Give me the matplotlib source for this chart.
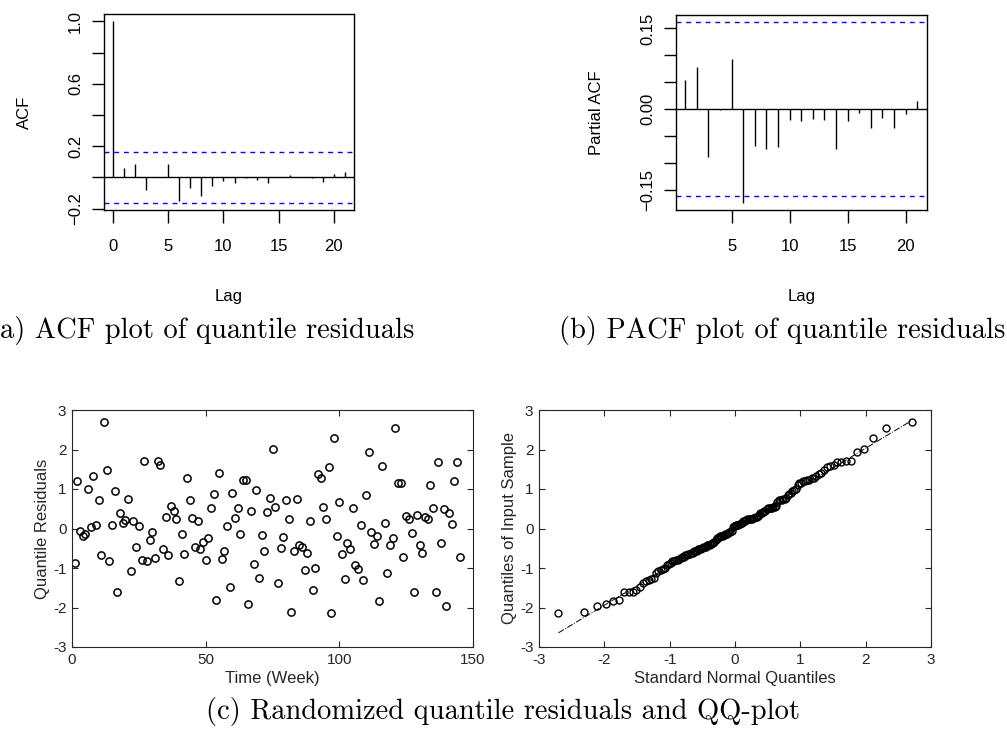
import numpy as np
import matplotlib
matplotlib.use("Agg")
import matplotlib.pyplot as plt
from statistics import NormalDist

# ACF / PACF values
acf_lags = list(range(0, 22))
acf_vals = [1.0, 0.060, 0.088, -0.079, 0.003, 0.085, -0.150, -0.066, -0.120, -0.056,
            -0.021, -0.038, -0.005, -0.015, -0.036, 0.0, 0.013, 0.005, -0.005, -0.028,
            0.024, 0.034]
pacf_lags = list(range(1, 22))
pacf_vals = [0.055, 0.078, -0.090, -0.002, 0.094, -0.1745, -0.068, -0.0745, -0.070, -0.021,
             -0.022, -0.019, -0.0205, -0.074, -0.022, -0.007, -0.035, -0.016, -0.035, -0.009,
             0.015]
clim = 0.1617   # 95% band, 1.96/sqrt(n)

# randomized quantile residuals by week
residuals = [-0.87, 1.21, -0.06, -0.19, -0.15, 0.99, 0.04, 1.33, 0.10, 0.72,
             -0.67, 2.69, 1.47, -0.83, 0.10, 0.95, -1.62, 0.40, 0.13, 0.21,
             0.75, -1.07, 0.19, -0.48, 0.06, -0.81, 1.70, -0.83, -0.29, -0.10,
             -0.74, 1.70, 1.60, -0.51, 0.29, -0.67, 0.58, 0.45, 0.23, -1.33,
             -0.14, -0.65, 1.27, 0.72, 0.26, -0.48, 0.19, -0.52, -0.33, -0.81,
             -0.24, 0.51, 0.87, -1.80, 1.40, -0.77, -0.58, 0.06, -1.49, 0.91,
             0.26, 0.52, -0.13, 1.23, 1.23, -1.92, 0.45, -0.91, 0.97, -1.26,
             -0.16, -0.56, 0.43, 0.77, 2.02, 0.55, -1.39, -0.50, -0.22, 0.71,
             0.24, -2.12, -0.56, 0.74, -0.42, -0.47, -1.04, -0.61, 0.20, -1.55,
             -1.00, 1.38, 1.29, 0.55, 0.24, 1.56, -2.14, 2.29, -0.20, 0.67,
             -0.64, -1.29, -0.37, -0.51, 0.51, -0.93, -1.03, 0.10, -1.31, 0.85,
             1.93, -0.08, -0.38, -0.18, -1.84, 1.58, 0.13, -1.13, -0.42, -0.23,
             2.55, 1.15, 1.15, -0.72, 0.31, 0.23, -0.12, -1.62, 0.35, -0.42,
             -0.62, 0.29, 0.23, 1.11, 0.51, -1.62, 1.68, -0.36, 0.49, -1.95,
             0.40, 0.12, 1.20, 1.69, -0.71]
weeks = list(range(1, len(residuals) + 1))

W, H = 1007, 744
fig = plt.figure(figsize=(W / 100, H / 100), dpi=100)
fig.patch.set_facecolor("white")

def box(x0, y0, x1, y1):
    # pixel box (top-left origin) -> figure fraction
    return [x0 / W, 1 - y1 / H, (x1 - x0) / W, (y1 - y0) / H]

rfont = "Liberation Sans"
MINUS = "\u2212"

# ---- (a) ACF ----
ax1 = fig.add_axes(box(104, 14, 354, 210))
ax1.vlines(acf_lags, 0, acf_vals, color="black", lw=1.0)
ax1.axhline(0, color="black", lw=1.0)
for c in (clim, -clim):
    ax1.axhline(c, color="blue", lw=1.0, linestyle=(0, (3.5, 3.5)))
ax1.set_xlim(-0.84, 21.84)
ax1.set_ylim(-0.2082, 1.0465)
ax1.set_xticks([0, 5, 10, 15, 20])
ax1.set_yticks([-0.2, 0.0, 0.2, 0.4, 0.6, 0.8, 1.0])
ax1.set_yticklabels([MINUS + "0.2", "", "0.2", "", "0.6", "", "1.0"])
ax1.set_ylabel("ACF", fontsize=12, family=rfont, labelpad=26)
ax1.set_xlabel("Lag", fontsize=12, family=rfont, labelpad=25)

# ---- (b) PACF ----
ax2 = fig.add_axes(box(676, 15, 926.5, 210))
ax2.vlines(pacf_lags, 0, pacf_vals, color="black", lw=1.0)
ax2.axhline(0, color="black", lw=1.0)
for c in (clim, -clim):
    ax2.axhline(c, color="blue", lw=1.0, linestyle=(0, (3.5, 3.5)))
ax2.set_xlim(0.2, 21.8)
ax2.set_ylim(-0.1877, 0.1751)
ax2.set_xticks([5, 10, 15, 20])
ax2.set_yticks([-0.15, -0.10, -0.05, 0.0, 0.05, 0.10, 0.15])
ax2.set_yticklabels([MINUS + "0.15", "", "", "0.00", "", "", "0.15"])
ax2.set_ylabel("Partial ACF", fontsize=12, family=rfont, labelpad=26)
ax2.set_xlabel("Lag", fontsize=12, family=rfont, labelpad=25)

for ax in (ax1, ax2):
    for s in ax.spines.values():
        s.set_linewidth(1.0)
        s.set_color("black")
    ax.tick_params(axis="both", direction="out", length=9, width=1.0, labelsize=12)
    ax.tick_params(axis="x", pad=12)
    ax.tick_params(axis="y", pad=6, labelrotation=90)
    for lab in ax.get_yticklabels():
        lab.set_verticalalignment("center")
    for lab in ax.get_xticklabels() + ax.get_yticklabels():
        lab.set_family(rfont)

# ---- (c) residuals over time ----
gray = "#262626"
ax3 = fig.add_axes(box(72, 410, 473, 647))
ax3.plot(weeks, residuals, linestyle="none", marker="o", markersize=5.2,
         markerfacecolor="none", markeredgecolor="black", markeredgewidth=1.1)
ax3.set_xlim(0, 150)
ax3.set_ylim(-3, 3)
ax3.set_xticks([0, 50, 100, 150])
ax3.set_yticks([-3, -2, -1, 0, 1, 2, 3])
ax3.set_yticklabels(["-3", "-2", "-1", "0", "1", "2", "3"])
ax3.set_xlabel("Time (Week)", fontsize=12, family=rfont, color=gray, labelpad=3)
ax3.set_ylabel("Quantile Residuals", fontsize=12, family=rfont, color=gray, labelpad=2)

# ---- (c) QQ plot ----
y_sorted = np.sort(residuals)
n = len(y_sorted)
nd = NormalDist()
x_theo = np.array([nd.inv_cdf((i - 0.5) / n) for i in range(1, n + 1)])
q1x, q3x = np.percentile(x_theo, [25, 75])
q1y, q3y = np.percentile(y_sorted, [25, 75])
slope = (q3y - q1y) / (q3x - q1x)
icpt = q1y - slope * q1x
xl = np.array([x_theo.min(), x_theo.max()])

ax4 = fig.add_axes(box(539, 410, 931, 647))
ax4.plot(xl, icpt + slope * xl, color="black", lw=0.7, linestyle="-.")
ax4.plot(x_theo, y_sorted, linestyle="none", marker="o", markersize=5.0,
         markerfacecolor="none", markeredgecolor="black", markeredgewidth=1.0)
ax4.set_xlim(-3, 3)
ax4.set_ylim(-3, 3)
ax4.set_xticks([-3, -2, -1, 0, 1, 2, 3])
ax4.set_xticklabels(["-3", "-2", "-1", "0", "1", "2", "3"])
ax4.set_yticks([-3, -2, -1, 0, 1, 2, 3])
ax4.set_yticklabels(["-3", "-2", "-1", "0", "1", "2", "3"])
ax4.set_xlabel("Standard Normal Quantiles", fontsize=12, family=rfont, color=gray, labelpad=3)
ax4.set_ylabel("Quantiles of Input Sample", fontsize=12, family=rfont, color=gray, labelpad=2)

for ax in (ax3, ax4):
    for s in ax.spines.values():
        s.set_linewidth(0.8)
        s.set_color(gray)
    ax.tick_params(axis="both", direction="in", length=4, width=0.8, colors=gray,
                   labelsize=11, top=True, right=True, pad=4)
    for lab in ax.get_xticklabels() + ax.get_yticklabels():
        lab.set_family(rfont)

# captions
cap = dict(fontsize=20.5, family="cmr10", va="center")
fig.text(-11 / W, 1 - 331 / H, "(a) ACF plot of quantile residuals", ha="left", **cap)
fig.text(1005 / W, 1 - 331 / H, "(b) PACF plot of quantile residuals", ha="right", **cap)
fig.text(503 / W, 1 - 712 / H, "(c) Randomized quantile residuals and QQ-plot", ha="center", **cap)

fig.savefig("out.png", dpi=100)
